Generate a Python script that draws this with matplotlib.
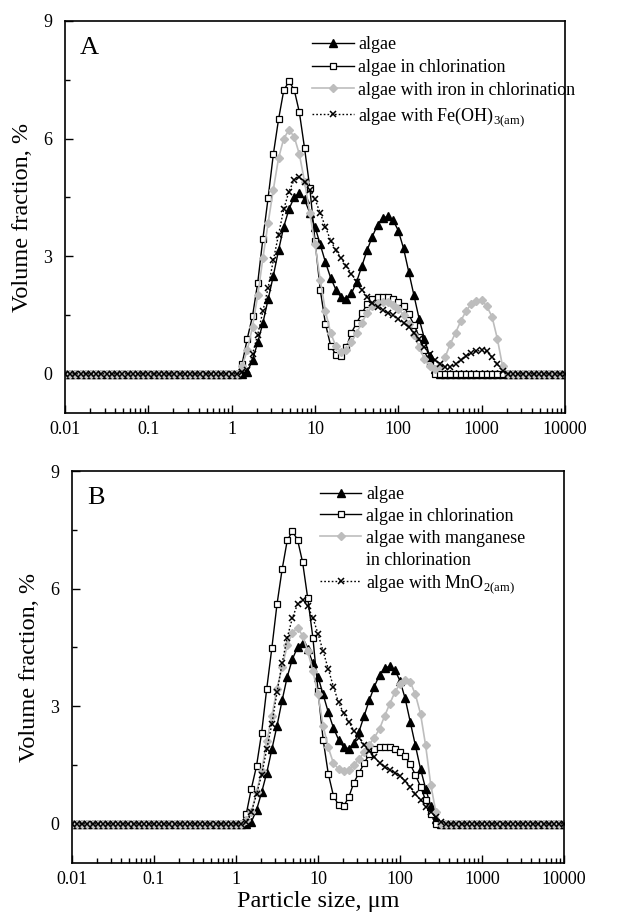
import numpy as np
import matplotlib
matplotlib.use('Agg')
import matplotlib.pyplot as plt
from matplotlib.lines import Line2D
from matplotlib.ticker import FixedLocator, NullFormatter, LogLocator

plt.rcParams['font.family'] = ['Liberation Serif', 'DejaVu Serif']
plt.rcParams['mathtext.fontset'] = 'custom'
plt.rcParams['mathtext.rm'] = 'Liberation Serif'

# size classes of the analyser: 16 per decade, 0.01 - 10000 um
size_um = np.logspace(-2, 4, 97)
first_bin = 34  # values below start at this size class (1.33 um); all others are 0

algae = [0.0, 0.05, 0.35, 0.8, 1.3, 1.9, 2.5, 3.15, 3.75, 4.2, 4.5, 4.62, 4.45, 4.1,
         3.75, 3.3, 2.85, 2.45, 2.15, 1.95, 1.92, 2.05, 2.35, 2.75, 3.15, 3.5, 3.8,
         3.97, 4.02, 3.92, 3.65, 3.2, 2.6, 2.0, 1.4, 0.9, 0.45, 0.12, 0.0]
chlorination = [0.25, 0.9, 1.47, 2.32, 3.45, 4.49, 5.6, 6.49, 7.23, 7.46, 7.25, 6.67,
                5.75, 4.75, 3.4, 2.15, 1.28, 0.72, 0.48, 0.45, 0.68, 1.05, 1.3, 1.54,
                1.78, 1.9, 1.95, 1.96, 1.95, 1.9, 1.83, 1.72, 1.52, 1.25, 0.95, 0.6,
                0.25, 0.0]
iron_chlor = [0.2, 0.6, 1.2, 2.0, 2.95, 3.85, 4.7, 5.5, 6.0, 6.22, 6.05, 5.6, 4.9, 4.1,
              3.3, 2.4, 1.6, 1.05, 0.7, 0.55, 0.6, 0.8, 1.05, 1.3, 1.55, 1.72, 1.8,
              1.83, 1.82, 1.76, 1.66, 1.5, 1.28, 1.0, 0.68, 0.38, 0.2, 0.13, 0.2, 0.43,
              0.77, 1.05, 1.35, 1.6, 1.78, 1.86, 1.88, 1.72, 1.45, 0.9, 0.2, 0.0]
fe_oh3 = [0.05, 0.1, 0.5, 1.0, 1.6, 2.2, 2.9, 3.55, 4.2, 4.65, 4.95, 5.02, 4.9, 4.7,
          4.45, 4.1, 3.75, 3.4, 3.15, 2.95, 2.75, 2.55, 2.35, 2.15, 1.97, 1.8, 1.7,
          1.62, 1.55, 1.49, 1.4, 1.3, 1.2, 1.05, 0.88, 0.68, 0.5, 0.35, 0.26, 0.18,
          0.17, 0.25, 0.35, 0.45, 0.53, 0.58, 0.6, 0.57, 0.42, 0.25, 0.06, 0.0]
mn_chlor = [0.1, 0.3, 0.8, 1.35, 2.1, 2.75, 3.45, 4.0, 4.55, 4.88, 5.0, 4.8, 4.4, 3.9,
            3.3, 2.5, 1.95, 1.55, 1.4, 1.35, 1.38, 1.5, 1.65, 1.82, 2.02, 2.2, 2.42,
            2.75, 3.06, 3.36, 3.57, 3.68, 3.62, 3.3, 2.81, 2.0, 1.0, 0.3, 0.0]
mno2 = [0.05, 0.3, 0.75, 1.25, 1.9, 2.55, 3.35, 4.1, 4.75, 5.25, 5.6, 5.72, 5.55, 5.25,
        4.85, 4.4, 3.95, 3.5, 3.1, 2.82, 2.6, 2.38, 2.2, 2.02, 1.86, 1.7, 1.55, 1.44,
        1.37, 1.3, 1.22, 1.1, 0.94, 0.76, 0.6, 0.44, 0.3, 0.17, 0.05, 0.0]

xticks = [0.01, 0.1, 1, 10, 100, 1000, 10000]
xticklabels = ['0.01', '0.1', '1', '10', '100', '1000', '10000']
yticks = [0, 3, 6, 9]


def full(values):
    y = np.zeros(len(size_um))
    y[first_bin:first_bin + len(values)] = values
    return y


grey = '#bdbdbd'
styles = {
    'tri': dict(color='black', marker='^', ms=5.5, lw=1.0),
    'sq': dict(color='black', marker='s', ms=4.5, mfc='white', mec='black', mew=0.9, lw=1.0),
    'dia': dict(color=grey, marker='D', ms=4, lw=1.2),
    'x': dict(color='black', marker='x', ms=5, mew=1.1, lw=1.0, ls=(0, (1.2, 1.5))),
}

fig = plt.figure(figsize=(6.21, 9.17), dpi=100)
ax_a = fig.add_axes([65 / 621, 1 - 413 / 917, 500 / 621, 392 / 917])
ax_b = fig.add_axes([72 / 621, 1 - 863 / 917, 492 / 621, 392 / 917])

panels = [
    (ax_a, 'A', 0.494, 0.33, [(algae, 'tri', 'algae'),
                              (chlorination, 'sq', 'algae in chlorination'),
                              (iron_chlor, 'dia', 'algae with iron in chlorination'),
                              (fe_oh3, 'x', r'algae with Fe(OH)$_{3(\mathrm{am})}$')]),
    (ax_b, 'B', 0.504, 0.27, [(algae, 'tri', 'algae'),
                              (chlorination, 'sq', 'algae in chlorination'),
                              (mn_chlor, 'dia', 'algae with manganese|in chlorination'),
                              (mno2, 'x', r'algae with MnO$_{2(\mathrm{am})}$')]),
]

for ax, letter, leg_x, leg_sp, series in panels:
    handles, labels = [], []
    for vals, st, lab in series:
        line, = ax.plot(size_um, full(vals), **styles[st])
        for i, part in enumerate(lab.split('|')):
            handles.append(line if i == 0 else Line2D([], [], ls='none'))
            labels.append(part)
    ax.set_xscale('log')
    ax.set_xlim(0.01, 10000)
    ax.set_ylim(-1, 9)
    ax.xaxis.set_major_locator(FixedLocator(xticks))
    ax.set_xticklabels(xticklabels)
    ax.xaxis.set_minor_locator(LogLocator(base=10, subs=np.arange(2, 10)))
    ax.xaxis.set_minor_formatter(NullFormatter())
    ax.set_yticks(yticks)
    ax.yaxis.set_minor_locator(FixedLocator([1.5, 4.5, 7.5]))
    ax.tick_params(which='both', direction='in', top=False, right=False,
                   labelsize=13, width=1.0)
    ax.tick_params(which='major', length=6)
    ax.tick_params(axis='x', which='major', pad=6)
    ax.tick_params(axis='y', which='major', pad=9)
    ax.tick_params(which='minor', length=3.5)
    for s in ax.spines.values():
        s.set_linewidth(1.2)
    ax.set_ylabel('Volume fraction, %', fontsize=17.5)
    ax.yaxis.set_label_coords(-32 / ax.bbox.width, 0.5)
    ax.text(0.03, 0.96, letter, transform=ax.transAxes, fontsize=19, va='top', ha='left')
    ax.legend(handles, labels, loc='upper left', bbox_to_anchor=(leg_x, 0.962),
              frameon=False, fontsize=13, handlelength=2.3, handletextpad=0.25,
              labelspacing=leg_sp, borderaxespad=0, borderpad=0)

ax_b.set_xlabel('Particle size, \u03bcm', fontsize=17.5, labelpad=2)

fig.savefig('out.png', dpi=100)
